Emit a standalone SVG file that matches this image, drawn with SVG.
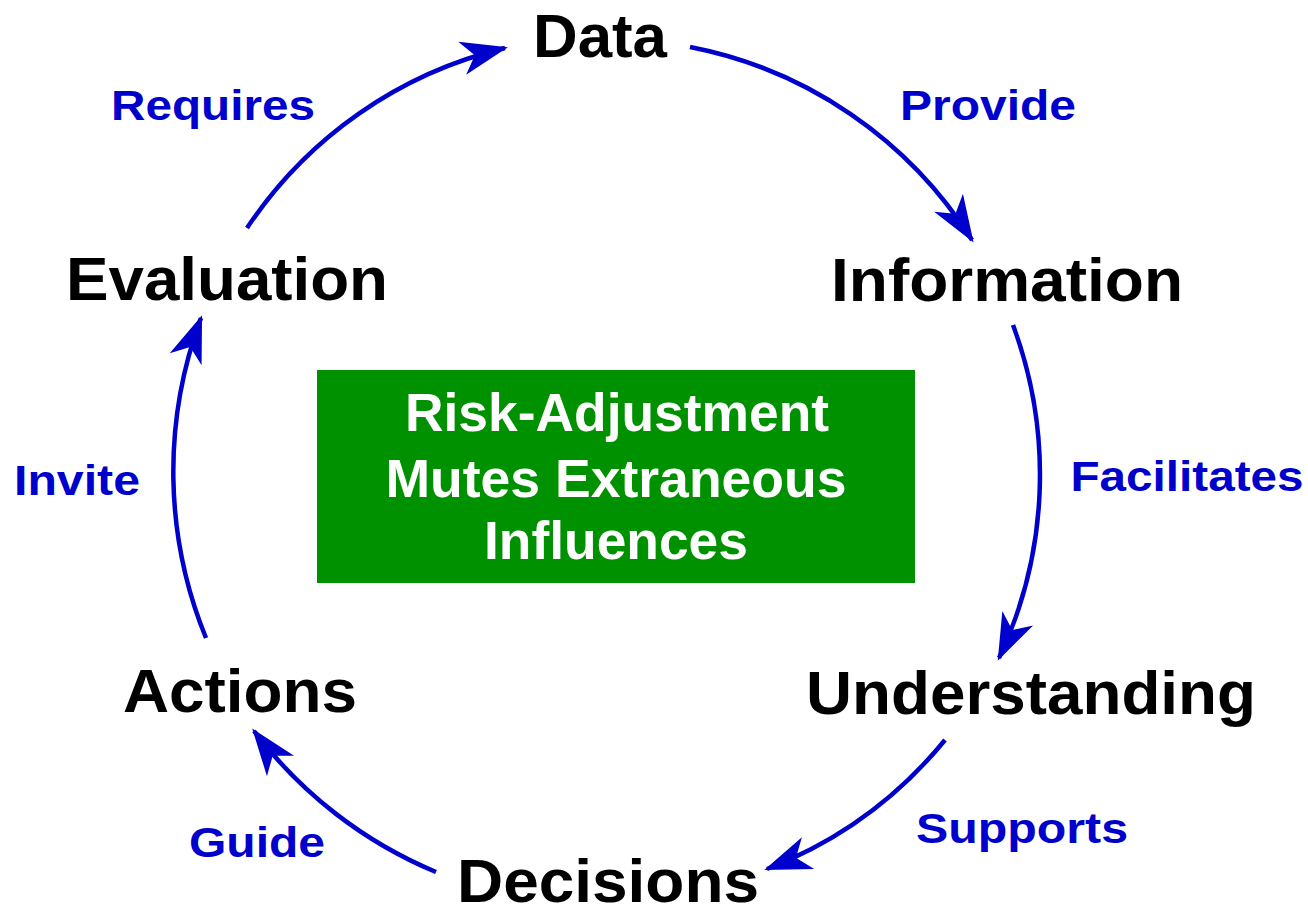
<svg xmlns="http://www.w3.org/2000/svg" width="1308" height="909" viewBox="0 0 1308 909">
<style>
.node{font-family:"Liberation Sans",Arial,sans-serif;font-weight:bold;font-size:62px;fill:#000;text-anchor:middle}
.lbl{font-family:"Liberation Sans",Arial,sans-serif;font-weight:bold;font-size:42px;fill:#0000CC;text-anchor:middle}
.box{font-family:"Liberation Sans",Arial,sans-serif;font-weight:bold;font-size:54px;fill:#fff;text-anchor:middle}
.arc{fill:none;stroke:#0000CC;stroke-width:4.5}
</style>
<defs>
<marker id="ah" markerUnits="userSpaceOnUse" markerWidth="1" markerHeight="1" refX="0" refY="0" orient="auto" overflow="visible">
<path d="M3,0 L-44,-17 L-31,0 L-44,17 Z" fill="#0000CC"/>
</marker>
</defs>
<rect width="1308" height="909" fill="#fff"/>
<g id="connectors">
<path class="arc" d="M247,228 A430,430 0 0,1 505,48" marker-end="url(#ah)"/>
<path class="arc" d="M690,47 A430,430 0 0,1 972,240" marker-end="url(#ah)"/>
<path class="arc" d="M1013,325 A430,430 0 0,1 999,658" marker-end="url(#ah)"/>
<path class="arc" d="M945,740 A430,430 0 0,1 767,869" marker-end="url(#ah)"/>
<path class="arc" d="M436,872 A440,440 0 0,1 254,731" marker-end="url(#ah)"/>
<path class="arc" d="M206,638 A440,440 0 0,1 201,318" marker-end="url(#ah)"/>
</g>
<g id="label-requires"><text class="lbl" x="213" y="120" textLength="204" lengthAdjust="spacingAndGlyphs">Requires</text></g>
<g id="label-provide"><text class="lbl" x="988" y="120" textLength="176" lengthAdjust="spacingAndGlyphs">Provide</text></g>
<g id="label-facilitates"><text class="lbl" x="1187" y="491" textLength="233" lengthAdjust="spacingAndGlyphs">Facilitates</text></g>
<g id="label-supports"><text class="lbl" x="1022" y="843" textLength="212" lengthAdjust="spacingAndGlyphs">Supports</text></g>
<g id="label-guide"><text class="lbl" x="257" y="857" textLength="136" lengthAdjust="spacingAndGlyphs">Guide</text></g>
<g id="label-invite"><text class="lbl" x="77" y="495" textLength="126" lengthAdjust="spacingAndGlyphs">Invite</text></g>
<g id="node-data"><text class="node" x="600" y="57" textLength="134" lengthAdjust="spacingAndGlyphs">Data</text></g>
<g id="node-information"><text class="node" x="1007" y="301" textLength="352" lengthAdjust="spacingAndGlyphs">Information</text></g>
<g id="node-understanding"><text class="node" x="1031" y="714" textLength="450" lengthAdjust="spacingAndGlyphs">Understanding</text></g>
<g id="node-decisions"><text class="node" x="608" y="902" textLength="302" lengthAdjust="spacingAndGlyphs">Decisions</text></g>
<g id="node-actions"><text class="node" x="240" y="712" textLength="234" lengthAdjust="spacingAndGlyphs">Actions</text></g>
<g id="node-evaluation"><text class="node" x="227" y="300" textLength="322" lengthAdjust="spacingAndGlyphs">Evaluation</text></g>
<g id="center-box">
<rect x="317" y="370" width="598" height="213" fill="#009100"/>
<text class="box" x="617" y="431" textLength="424" lengthAdjust="spacingAndGlyphs">Risk-Adjustment</text>
<text class="box" x="616" y="497" textLength="461" lengthAdjust="spacingAndGlyphs">Mutes Extraneous</text>
<text class="box" x="616" y="559" textLength="264" lengthAdjust="spacingAndGlyphs">Influences</text>
</g>
</svg>
